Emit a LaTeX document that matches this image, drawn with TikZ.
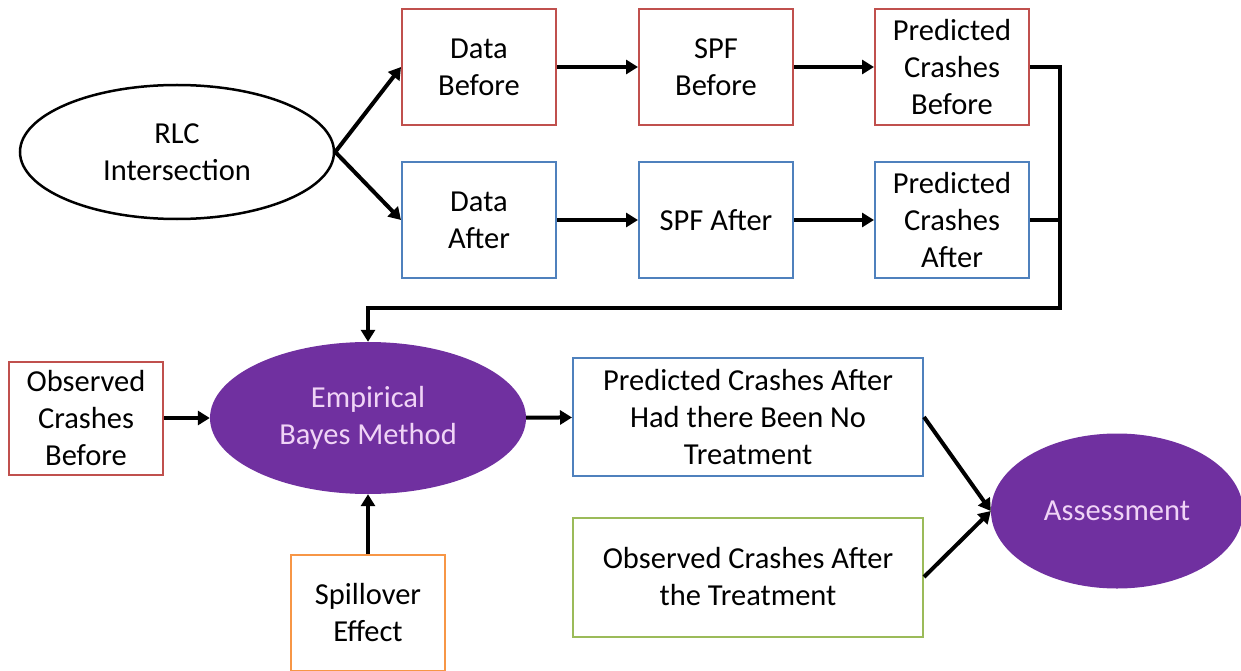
\documentclass[tikz,border=0pt]{standalone}
\usepackage{fontspec}
\setmainfont{Carlito}
\usetikzlibrary{arrows.meta,shapes.geometric}
\definecolor{redline}{HTML}{C0504D}
\definecolor{blueline}{HTML}{4F81BD}
\definecolor{greenline}{HTML}{9BBB59}
\definecolor{orangeline}{HTML}{F79646}
\definecolor{purplefill}{HTML}{7030A0}
\definecolor{pinktext}{HTML}{F0D4F6}
\begin{document}
\begin{tikzpicture}[x=1pt,y=-1pt,
    font=\fontsize{30.5}{37}\selectfont,
    box/.style={draw=#1,line width=2pt,fill=white,minimum width=154pt,
      minimum height=116pt,align=center,inner sep=2pt},
    widebox/.style={box=#1,minimum width=350pt},
    oval/.style={ellipse,align=center,inner sep=0pt},
    purp/.style={oval,fill=purplefill,text=pinktext},
    flow/.style={line width=4pt,-{Triangle[length=12pt,width=14pt]}},
    link/.style={line width=4pt,-}]
  \useasboundingbox (0,0) rectangle (1241,671);
  % top part
  \node[oval,draw,line width=2.5pt,minimum width=314pt,minimum height=134pt] (rlc) at (177,152) {RLC\\Intersection};
  \node[box=redline] (db) at (479,67) {Data\\Before};
  \node[box=blueline] (da) at (479,220) {Data\\After};
  \node[box=redline] (sb) at (716,67) {SPF\\Before};
  \node[box=blueline] (sa) at (716,220) {SPF After};
  \node[box=redline] (pb) at (952,67) {Predicted\\Crashes\\Before};
  \node[box=blueline] (pa) at (952,220) {Predicted\\Crashes\\After};
  \coordinate (bus) at (1060,308);
  % bottom part
  \node[box=redline,minimum height=113pt] (ob) at (86,418) {Observed\\Crashes\\Before};
  \node[purp,minimum width=316pt,minimum height=152pt] (eb) at (368,418) {Empirical\\Bayes Method};
  \node[box=orangeline] (sp) at (368,613) {Spillover\\Effect};
  \node[widebox=blueline,minimum height=118pt] (pn) at (748,417) {Predicted Crashes After\\Had there Been No\\Treatment};
  \node[widebox=greenline,minimum height=119pt] (oa) at (748,577) {Observed Crashes After\\the Treatment};
  \node[purp,minimum width=252pt,minimum height=155pt] (as) at (1117,511) {Assessment};
  \begin{scope}[flow]
    \draw (rlc.east) -- (db.west);
    \draw (rlc.east) -- (da.west);
    \draw (db) -- (sb);
    \draw (da) -- (sa);
    \draw (sb) -- (pb);
    \draw (sa) -- (pa);
    \draw (pb.east) -| (bus) -| (eb.north);
    \draw[link] (pa.east) -- (pa.east -| bus);
    \draw (ob) -- (eb);
    \draw (sp) -- (eb);
    \draw (eb) -- (pn);
    \draw (pn.east) -- (as.west);
    \draw (oa.east) -- (as.west);
  \end{scope}
\end{tikzpicture}
\end{document}
